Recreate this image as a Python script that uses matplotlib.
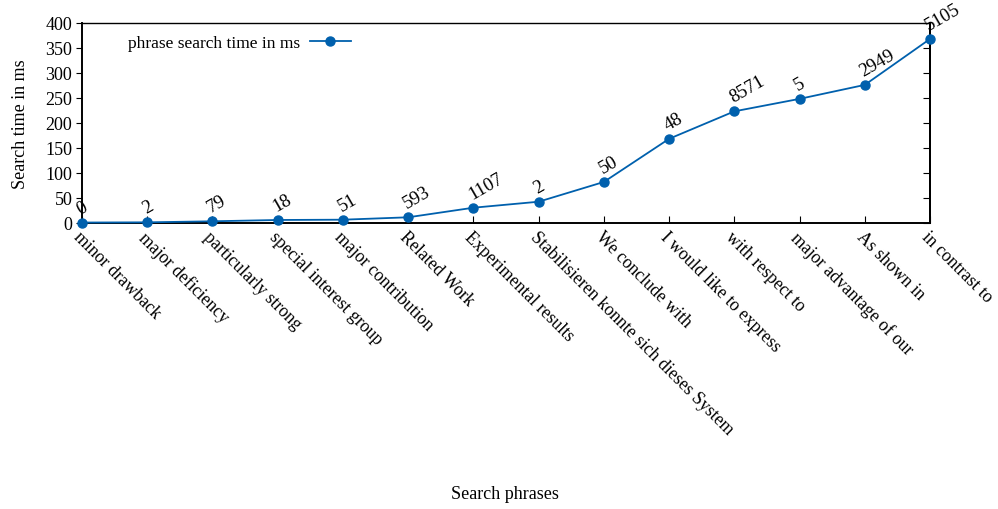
import matplotlib.pyplot as plt

phrases = ['minor drawback', 'major deficiency', 'particularly strong',
           'special interest group', 'major contribution', 'Related Work',
           'Experimental results', 'Stabilisieren konnte sich dieses System',
           'We conclude with', 'I would like to express', 'with respect to',
           'major advantage of our', 'As shown in', 'in contrast to']
search_time = [0.3, 0.7, 2.8, 5.4, 6.0, 10.8, 30, 42, 81.6, 168, 223, 248,
               276, 368]
counts = ['0', '2', '79', '18', '51', '593', '1107', '2', '50', '48', '8571',
          '5', '2949', '5105']


def main():
    plt.rcParams['font.family'] = ['Liberation Serif', 'DejaVu Serif']
    plt.rcParams['font.size'] = 13
    blue = '#0060ad'

    fig = plt.figure(figsize=(9.98, 5.10), dpi=100)
    ax = fig.add_axes([0.0822, 0.5614, 0.8497, 0.3916])

    x = list(range(len(phrases)))
    ax.plot(x, search_time, color=blue, lw=1.3, marker='o', markersize=6.5,
            label='phrase search time in ms', clip_on=False, zorder=5)

    for xi, yi, c in zip(x, search_time, counts):
        ax.annotate(c, (xi, yi), xytext=(0.5, 4), textcoords='offset points',
                    rotation=30, rotation_mode='anchor', ha='left',
                    va='bottom', fontsize=13.5)

    ax.set_xlim(0, len(phrases) - 1)
    ax.set_ylim(0, 400)
    ax.set_yticks(range(0, 401, 50))
    ax.set_xticks(x)
    ax.set_xticklabels(phrases, rotation=-45, ha='left', va='top',
                       rotation_mode='anchor', fontsize=12.8)
    ax.tick_params(axis='x', direction='in', length=5, pad=4, top=False)
    ax.tick_params(axis='y', direction='out', length=4, pad=3)

    right = ax.secondary_yaxis('right')
    right.set_yticks(range(0, 401, 50))
    right.tick_params(direction='in', length=5, labelright=False)
    right.spines['right'].set_linewidth(1.4)
    for s in ax.spines.values():
        s.set_linewidth(1.4)
    ax.spines['top'].set_linewidth(1.0)

    ax.set_ylabel('Search time in ms')
    ax.yaxis.set_label_coords(-0.062, 0.5)
    fig.text(0.506, 0.03, 'Search phrases', ha='center', va='center',
             fontsize=13)

    ax.legend(loc='upper left', frameon=False, markerfirst=False,
              handlelength=2.35, handletextpad=0.55, fontsize=12.5,
              bbox_to_anchor=(0.04, 1.0), borderaxespad=0.3)

    fig.savefig('out.png', dpi=100)


if __name__ == "__main__":
    main()
